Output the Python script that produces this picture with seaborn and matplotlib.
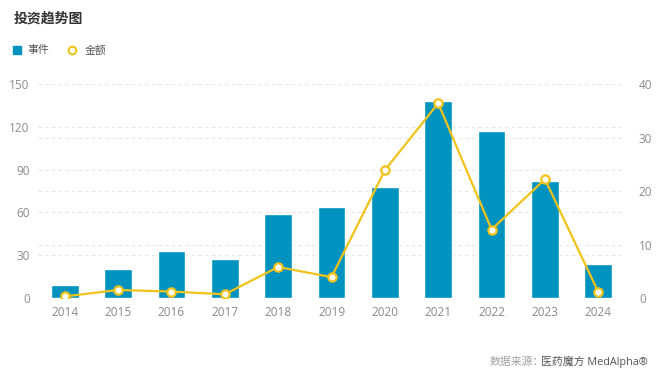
import numpy as np
import pandas as pd
import seaborn as sns
import matplotlib.pyplot as plt

# Data
years = ["2014", "2015", "2016", "2017", "2018", "2019", "2020", "2021", "2022", "2023", "2024"]
events = [9, 20, 33, 27, 59, 64, 78, 138, 117, 82, 24]
amounts = [0.3, 1.5, 1.2, 0.7, 5.8, 3.9, 23.9, 36.4, 12.8, 22.2, 1.1]
left_ticks = [0, 30, 60, 90, 120, 150]
right_ticks = [0, 10, 20, 30, 40]

bar_color = "#0093BF"
line_color = "#F2C31A"
grid_color = "#E6E6E6"
tick_color = "#8A8A8A"

sns.set_style("white")
plt.rcParams["font.family"] = ["Open Sans", "Noto Sans CJK SC", "DejaVu Sans"]

df = pd.DataFrame({"year": years, "events": events, "amount": amounts})

fig = plt.figure(figsize=(6.6, 3.76), dpi=100)
ax = fig.add_axes([0.0576, 0.2074, 0.8894, 0.5692])

sns.barplot(data=df, x="year", y="events", color=bar_color, width=0.52,
            saturation=1, ax=ax, zorder=2)
ax.set_ylim(0, 150)
ax.set_yticks(left_ticks)
# right-axis grid drawn on the bar axes so it stays behind the bars
ax.set_yticks(np.array(right_ticks) * 150 / 40, minor=True)
ax.set_xlim(-0.5, len(years) - 0.5)

ax2 = ax.twinx()
sns.lineplot(x=np.arange(len(years)), y=df["amount"], color=line_color,
             linewidth=1.6, marker="o", markersize=6, markerfacecolor="white",
             markeredgecolor=line_color, markeredgewidth=1.6, ax=ax2, zorder=3)
ax2.set_ylim(0, 40)
ax2.set_yticks(right_ticks)
ax2.set_xlim(-0.5, len(years) - 0.5)

ax.grid(axis="y", which="both", color=grid_color, linestyle=(0, (3, 3)), linewidth=0.8)
ax.set_axisbelow(True)
ax2.grid(False)
for a in (ax, ax2):
    for s in a.spines.values():
        s.set_visible(False)
    a.tick_params(which="both", length=0, colors=tick_color, labelsize=8.5, pad=6)
    a.set_xlabel("")
    a.set_ylabel("")
ax2.tick_params(pad=10)

fig.text(0.02, 0.95, "投资趋势图", fontsize=10, fontweight="bold",
         color="#333333", va="center", family=["Noto Sans CJK SC"])

# legend
fig.lines.append(plt.Line2D([0.026], [0.866], marker="s", markersize=5.5,
                            color=bar_color, linestyle="", transform=fig.transFigure))
fig.text(0.042, 0.866, "事件", fontsize=7.8, color="#555555", va="center",
         family=["Noto Sans CJK SC"])
fig.lines.append(plt.Line2D([0.109], [0.866], marker="o", markersize=5.5,
                            markerfacecolor="white", markeredgecolor=line_color,
                            markeredgewidth=1.5, linestyle="", transform=fig.transFigure))
fig.text(0.128, 0.866, "金额", fontsize=7.8, color="#555555", va="center",
         family=["Noto Sans CJK SC"])

# source note
fig.text(0.742, 0.037, "数据来源：", fontsize=7.8, color="#A0A0A0", va="center",
         family=["Noto Sans CJK SC"])
fig.text(0.82, 0.037, "医药魔方 MedAlpha®", fontsize=7.8, color="#555555", va="center",
         family=["Open Sans", "Noto Sans CJK SC"])

fig.savefig("out.png", dpi=100)
